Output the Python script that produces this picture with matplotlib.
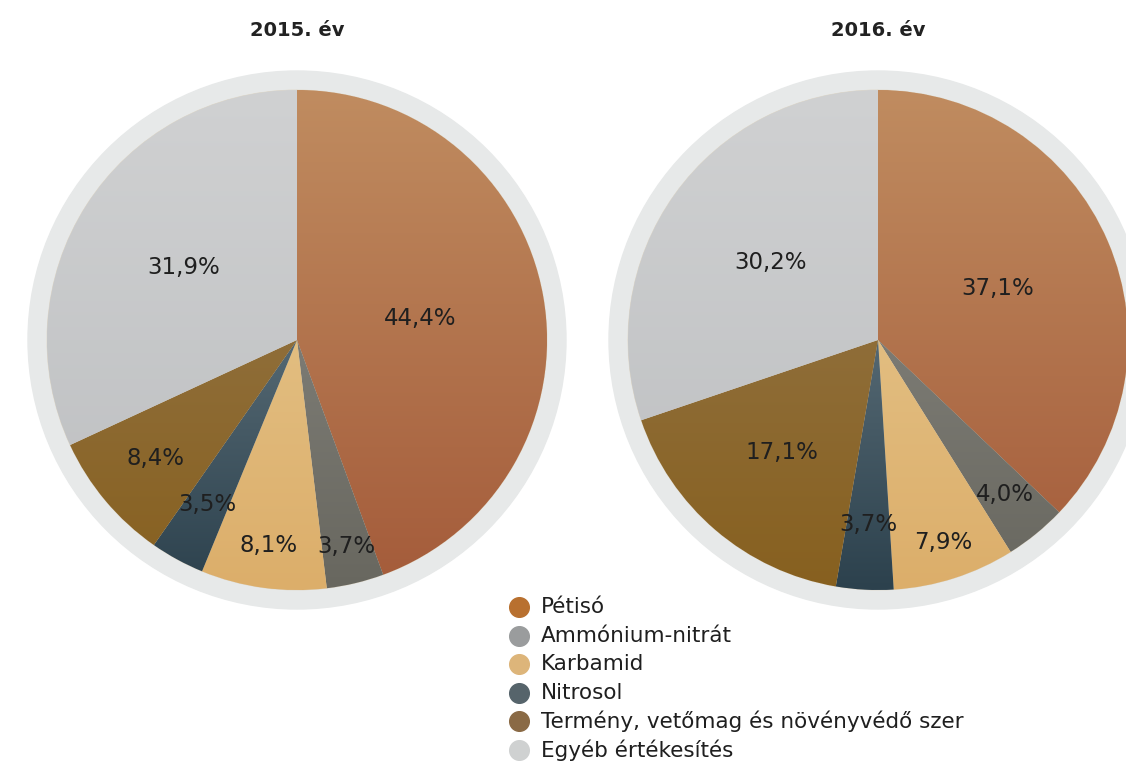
import numpy as np
import matplotlib.pyplot as plt
from matplotlib.colors import LinearSegmentedColormap
from matplotlib.patches import Circle

# Adatok
kategoriak = ['Pétisó', 'Ammónium-nitrát', 'Karbamid', 'Nitrosol',
              'Termény, vetőmag és növényvédő szer', 'Egyéb értékesítés']
ev_2015 = [44.4, 3.7, 8.1, 3.5, 8.4, 31.9]
ev_2016 = [37.1, 4.0, 7.9, 3.7, 17.1, 30.2]
cimek = ['2015. év', '2016. év']

# Színek (felső / alsó árnyalat a színátmenethez) és jelmagyarázat színei
felso_szin = ['#c08c60', '#908f89', '#e8cd97', '#7d8f98', '#977b52', '#d0d1d2']
also_szin = ['#a45b3a', '#68675f', '#dcae6a', '#2c414d', '#87601f', '#bcbec0']
jelm_szin = ['#b8702f', '#9a9c9d', '#ddb57a', '#56646b', '#8a6a45', '#cfd1d1']

# Címke távolságok (a sugár arányában)
cimke_r_2015 = [0.5, 0.85, 0.83, 0.75, 0.74, 0.54]
cimke_r_2016 = [0.52, 0.8, 0.85, 0.74, 0.59, 0.53]

W, H = 1126, 761
fig = plt.figure(figsize=(W / 100, H / 100), dpi=100)
ax = fig.add_axes([0, 0, 1, 1])

R = 250
kozeppontok = [(297, H - 340), (878, H - 340)]
grad = np.linspace(1, 0, 256).reshape(-1, 1)

for adat, cim, (cx, cy), cr in zip([ev_2015, ev_2016], cimek, kozeppontok,
                                   [cimke_r_2015, cimke_r_2016]):
    # külső szürke gyűrű
    ax.add_patch(Circle((cx, cy), 269, color='#e7e9e9', zorder=0))
    wedges, _ = ax.pie(adat, colors=jelm_szin, startangle=90, counterclock=False,
                       center=(cx, cy), radius=R,
                       wedgeprops=dict(edgecolor='#e0d8c8', linewidth=0.6))
    for i, w in enumerate(wedges):
        w.set_zorder(1)
        cmap = LinearSegmentedColormap.from_list('g', [also_szin[i], felso_szin[i]])
        im = ax.imshow(grad, cmap=cmap, extent=[cx - R, cx + R, cy - R, cy + R],
                       aspect='auto', zorder=2, interpolation='bilinear')
        im.set_clip_path(w)
        mid = np.deg2rad((w.theta1 + w.theta2) / 2)
        ax.text(cx + cr[i] * R * np.cos(mid), cy + cr[i] * R * np.sin(mid),
                f'{adat[i]:.1f}%'.replace('.', ','), ha='center', va='center',
                fontsize=16.5, color='#1f1f1f', zorder=5)
    ax.text(cx, H - 31, cim, ha='center', va='center', fontsize=14,
            fontweight='bold', color='#222222')

# Jelmagyarázat
for i, (k, c) in enumerate(zip(kategoriak, jelm_szin)):
    y = H - (607 + i * 28.6)
    ax.scatter([519], [y], s=200, color=c, zorder=5)
    ax.text(541, y, k, ha='left', va='center', fontsize=15.5, color='#1f1f1f')

ax.set_xlim(0, W)
ax.set_ylim(0, H)
ax.set_aspect('auto')
ax.axis('off')
plt.savefig('out.png', dpi=100)
